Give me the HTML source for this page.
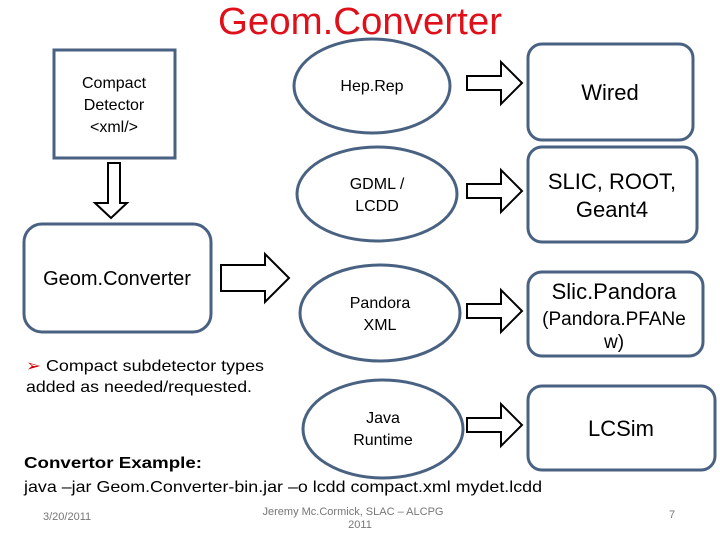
<!DOCTYPE html>
<html><head><style>
body{margin:0;background:#fff;}
svg{display:block;font-family:"Liberation Sans",sans-serif;}
</style></head><body>
<svg width="720" height="540" viewBox="0 0 720 540" xmlns="http://www.w3.org/2000/svg">
<g fill="none" stroke="#4a6282" stroke-width="3">
<rect x="54" y="50" width="121" height="108"/>
<rect x="24" y="224" width="187" height="108" rx="18"/>
<ellipse cx="372" cy="86" rx="78" ry="47"/>
<ellipse cx="377" cy="194" rx="80" ry="47"/>
<ellipse cx="380" cy="313" rx="80" ry="48"/>
<ellipse cx="383" cy="429" rx="80" ry="49"/>
<rect x="528" y="44" width="165" height="96" rx="14"/>
<rect x="528" y="147" width="169" height="95" rx="14"/>
<rect x="528" y="272" width="175" height="84" rx="14"/>
<rect x="528" y="386" width="187" height="84" rx="14"/>
</g>
<g fill="#fff" stroke="#000" stroke-width="2">
<polygon points="108,163 120,163 120,203 127,203 111,218 95,203 108,203"/>
<polygon points="221,265 265,265 265,254 289,278 265,302 265,291 221,291"/>
<polygon points="467,76 501,76 501,62 522,83 501,104 501,90 467,90"/>
<polygon points="467,184 501,184 501,170 522,191 501,212 501,198 467,198"/>
<polygon points="467,304 501,304 501,290 522,311 501,332 501,318 467,318"/>
<polygon points="467,418 501,418 501,404 522,425 501,446 501,432 467,432"/>
</g>
<g text-anchor="middle" fill="#000">
<text x="360" y="34" font-size="38" fill="#e0101a" textLength="284" lengthAdjust="spacingAndGlyphs">Geom.Converter</text>
<text x="114" y="88" font-size="16">Compact</text>
<text x="114" y="110" font-size="16">Detector</text>
<text x="114" y="132" font-size="16">&lt;xml/&gt;</text>
<text x="117" y="285" font-size="20">Geom.Converter</text>
<text x="372" y="91" font-size="16">Hep.Rep</text>
<text x="377" y="189" font-size="16">GDML /</text>
<text x="377" y="211" font-size="16">LCDD</text>
<text x="380" y="308" font-size="16">Pandora</text>
<text x="380" y="330" font-size="16">XML</text>
<text x="383" y="423" font-size="16">Java</text>
<text x="383" y="445" font-size="16">Runtime</text>
<text x="610" y="100" font-size="22">Wired</text>
<text x="612" y="189" font-size="22">SLIC, ROOT,</text>
<text x="612" y="217" font-size="22">Geant4</text>
<text x="614" y="299" font-size="22">Slic.Pandora</text>
<text x="614" y="325" font-size="19">(Pandora.PFANe</text>
<text x="614" y="348" font-size="19">w)</text>
<text x="621" y="436" font-size="22">LCSim</text>
<text x="353" y="515" font-size="11" fill="#777">Jeremy Mc.Cormick, SLAC – ALCPG</text>
<text x="360" y="528" font-size="11" fill="#777">2011</text>
</g>
<g font-size="16" fill="#000">
<text x="26" y="371" textLength="238" lengthAdjust="spacingAndGlyphs"><tspan fill="#c00">➢</tspan> Compact subdetector types</text>
<text x="26" y="392" textLength="226" lengthAdjust="spacingAndGlyphs">added as needed/requested.</text>
<text x="24" y="468" font-weight="bold" textLength="178" lengthAdjust="spacingAndGlyphs">Convertor Example:</text>
<text x="24" y="492" textLength="518" lengthAdjust="spacingAndGlyphs">java –jar Geom.Converter-bin.jar –o lcdd compact.xml mydet.lcdd</text>
<text x="43" y="520" font-size="11" fill="#777">3/20/2011</text>
<text x="669" y="518" font-size="11" fill="#777">7</text>
</g>
</svg>
</body></html>
